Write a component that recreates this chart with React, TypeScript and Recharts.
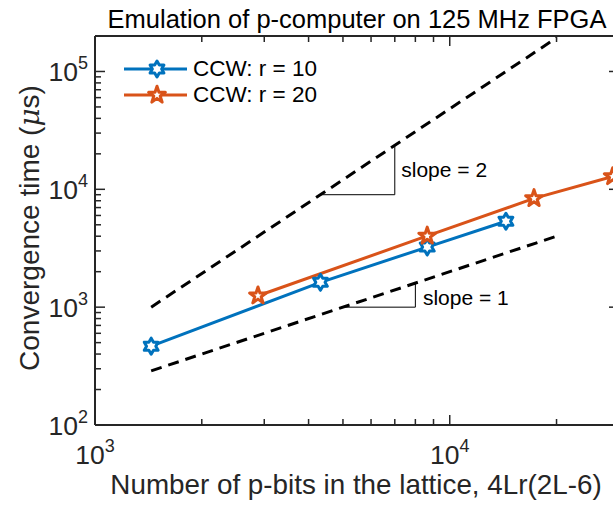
import React from 'react';
import { LineChart, Line, XAxis, YAxis, ReferenceDot, Legend } from 'recharts';

// ---- data ----
const xR10 = [1440, 4320, 8640, 14400];
const yR10 = [467, 1625, 3236, 5360];
const xR20 = [2880, 8640, 17280, 28800];
const yR20 = [1250, 4020, 8375, 12850];
const slope2X = [1440, 20000];
const slope2Y = [1000, 192900];
const slope1X = [1440, 20000];
const slope1Y = [288, 4000];
const tri2X = [4320, 7000, 7000];
const tri2Y = [9000, 9000, 23630];
const tri1X = [5000, 8000, 8000];
const tri1Y = [1000, 1000, 1600];
const slope2Text = { x: 7300, y: 14600, label: 'slope = 2' };
const slope1Text = { x: 8400, y: 1205, label: 'slope = 1' };
const seriesNames = ['CCW: r = 10', 'CCW: r = 20'];
const xMajor = [1000, 10000];
const xMinor = [2000, 3000, 4000, 5000, 6000, 7000, 8000, 9000, 20000, 30000];
const yMajor = [100, 1000, 10000, 100000];
const yMinor = [200, 300, 400, 500, 600, 700, 800, 900, 2000, 3000, 4000, 5000, 6000, 7000, 8000, 9000, 20000, 30000, 40000, 50000, 60000, 70000, 80000, 90000, 200000];
const xDomain = [1000, 30000];
const yDomain = [100, 200000];
const titleText = 'Emulation of p-computer on 125 MHz FPGA';
const xLabelText = 'Number of p-bits in the lattice, 4Lr(2L-6)';

const zip = (xs: number[], ys: number[]) => xs.map((x, i) => ({ x, y: ys[i] }));
const r10Data = zip(xR10, yR10);
const r20Data = zip(xR20, yR20);
const s2Data = zip(slope2X, slope2Y);
const s1Data = zip(slope1X, slope1Y);
const t2Data = zip(tri2X, tri2Y);
const t1Data = zip(tri1X, tri1Y);

const BLUE = '#0072BD';
const ORANGE = '#D95319';
const AX = '#262626';
const FONT = '"Liberation Sans", Arial, Helvetica, sans-serif';

const starPath = (cx: number, cy: number, n: number, R: number, r: number) => {
  const pts: string[] = [];
  for (let k = 0; k < 2 * n; k++) {
    const a = (-90 + (k * 180) / n) * (Math.PI / 180);
    const rad = k % 2 === 0 ? R : r;
    pts.push(`${(cx + rad * Math.cos(a)).toFixed(2)},${(cy + rad * Math.sin(a)).toFixed(2)}`);
  }
  return 'M' + pts.join('L') + 'Z';
};

const Hexagram = (props: any) => {
  const { cx, cy, index } = props;
  if (cx == null || cy == null) return <g key={index} />;
  return <path key={`h${index}`} d={starPath(cx, cy, 6, 8, 8 / Math.sqrt(3))} fill="#fff" stroke={BLUE} strokeWidth={3} strokeLinejoin="round" />;
};
const Pentagram = (props: any) => {
  const { cx, cy, index } = props;
  if (cx == null || cy == null) return <g key={index} />;
  return <path key={`p${index}`} d={starPath(cx, cy, 5, 8.8, 8.8 * 0.382)} fill="#fff" stroke={ORANGE} strokeWidth={3} strokeLinejoin="round" />;
};

const expLabel = (v: number) => String(Math.round(Math.log10(v)));

const XTickBottom = (props: any) => {
  const { x, y, payload } = props;
  const v = payload.value;
  const major = xMajor.includes(v);
  const len = major ? 10 : 6;
  return (
    <g>
      <line x1={x} y1={y} x2={x} y2={y - len} stroke={AX} strokeWidth={1.5} />
      {major && (
        <text x={x} y={y + 39} textAnchor="middle" fill={AX} fontFamily={FONT} fontSize={26.5}>
          <tspan>10</tspan>
          <tspan dy={-12} fontSize={18}>{expLabel(v)}</tspan>
        </text>
      )}
    </g>
  );
};
const XTickTop = (props: any) => {
  const { x, y, payload } = props;
  const major = xMajor.includes(payload.value);
  const len = major ? 10 : 6;
  return <line x1={x} y1={y} x2={x} y2={y + len} stroke={AX} strokeWidth={1.5} />;
};
const YTickLeft = (props: any) => {
  const { x, y, payload } = props;
  const v = payload.value;
  const major = yMajor.includes(v);
  const len = major ? 10 : 6;
  return (
    <g>
      <line x1={x} y1={y} x2={x + len} y2={y} stroke={AX} strokeWidth={1.5} />
      {major && (
        <text x={x - 7} y={y + 10} textAnchor="end" fill={AX} fontFamily={FONT} fontSize={26.5}>
          <tspan>10</tspan>
          <tspan dy={-12} fontSize={18}>{expLabel(v)}</tspan>
        </text>
      )}
    </g>
  );
};
const YTickRight = (props: any) => {
  const { x, y, payload } = props;
  const major = yMajor.includes(payload.value);
  const len = major ? 10 : 6;
  return <line x1={x} y1={y} x2={x - len} y2={y} stroke={AX} strokeWidth={1.5} />;
};

const LegendContent = () => (
  <div style={{ fontFamily: FONT, fontSize: 22.5, color: '#000' }}>
    {seriesNames.map((name, i) => (
      <div key={name} style={{ display: 'flex', alignItems: 'center', height: 26 }}>
        <svg width={63} height={26} style={{ display: 'block' }}>
          <line x1={0} y1={13} x2={63} y2={13} stroke={i === 0 ? BLUE : ORANGE} strokeWidth={3} />
          {i === 0 ? <Hexagram cx={33} cy={13} index={0} /> : <Pentagram cx={33} cy={13} index={1} />}
        </svg>
        <span style={{ marginLeft: 6, lineHeight: '26px', whiteSpace: 'nowrap' }}>{name}</span>
      </div>
    ))}
  </div>
);

const slopeLabel = (text: string) => ({
  value: text,
  position: 'right' as const,
  offset: 0,
  fill: '#000',
  fontSize: 21,
  fontFamily: FONT,
});

export default function App() {
  const allX = [...xMajor, ...xMinor];
  const allY = [...yMajor, ...yMinor];
  return (
    <div style={{ position: 'absolute', left: 0, top: 0, width: 613, height: 508, overflow: 'hidden', background: '#fff' }}>
      <div style={{ position: 'absolute', left: 0, top: 0 }}>
        <LineChart width={640} height={508} margin={{ top: 35, left: 94, right: 20, bottom: 82 }}>
          <XAxis xAxisId="b" type="number" dataKey="x" scale="log" domain={xDomain} allowDataOverflow ticks={allX}
            interval={0} height={1} tickSize={0} tickMargin={0} tickLine={false} tick={XTickBottom}
            axisLine={{ stroke: AX, strokeWidth: 2 }} orientation="bottom" />
          <XAxis xAxisId="t" type="number" dataKey="x" scale="log" domain={xDomain} allowDataOverflow ticks={allX}
            interval={0} height={1} tickSize={0} tickMargin={0} tickLine={false} tick={XTickTop}
            axisLine={{ stroke: AX, strokeWidth: 2 }} orientation="top" />
          <YAxis yAxisId="l" type="number" scale="log" domain={yDomain} allowDataOverflow ticks={allY}
            interval={0} width={1} tickSize={0} tickMargin={0} tickLine={false} tick={YTickLeft}
            axisLine={{ stroke: AX, strokeWidth: 2 }} orientation="left" />
          <YAxis yAxisId="r" type="number" scale="log" domain={yDomain} allowDataOverflow ticks={allY}
            interval={0} width={1} tickSize={0} tickMargin={0} tickLine={false} tick={YTickRight}
            axisLine={{ stroke: AX, strokeWidth: 2 }} orientation="right" />
          <Legend layout="vertical" align="center" verticalAlign="middle" content={<LegendContent />}
            wrapperStyle={{ position: 'absolute', left: 124, top: 56, width: 'auto', height: 'auto' }} />
          <Line xAxisId="b" yAxisId="l" data={s2Data} dataKey="y" stroke="#000" strokeWidth={3} strokeDasharray="11 7" dot={false} isAnimationActive={false} legendType="none" />
          <Line xAxisId="b" yAxisId="l" data={s1Data} dataKey="y" stroke="#000" strokeWidth={3} strokeDasharray="11 7" dot={false} isAnimationActive={false} legendType="none" />
          <Line xAxisId="b" yAxisId="l" data={t2Data} dataKey="y" stroke="#000" strokeWidth={1} dot={false} isAnimationActive={false} legendType="none" />
          <Line xAxisId="b" yAxisId="l" data={t1Data} dataKey="y" stroke="#000" strokeWidth={1} dot={false} isAnimationActive={false} legendType="none" />
          <Line xAxisId="b" yAxisId="l" data={r10Data} dataKey="y" name={seriesNames[0]} stroke={BLUE} strokeWidth={3} dot={<Hexagram />} isAnimationActive={false} />
          <Line xAxisId="b" yAxisId="l" data={r20Data} dataKey="y" name={seriesNames[1]} stroke={ORANGE} strokeWidth={3} dot={<Pentagram />} isAnimationActive={false} />
          <ReferenceDot xAxisId="b" yAxisId="l" x={slope2Text.x} y={slope2Text.y} r={0} label={slopeLabel(slope2Text.label)} />
          <ReferenceDot xAxisId="b" yAxisId="l" x={slope1Text.x} y={slope1Text.y} r={0} label={slopeLabel(slope1Text.label)} />
        </LineChart>
      </div>
      <div style={{ position: 'absolute', left: 357, top: 4, transform: 'translateX(-50%)', whiteSpace: 'nowrap', fontFamily: FONT, fontSize: 25.5, color: '#000', lineHeight: '30px' }}>
        {titleText}
      </div>
      <div style={{ position: 'absolute', left: 356, top: 471, transform: 'translateX(-50%)', whiteSpace: 'nowrap', fontFamily: FONT, fontSize: 27.8, color: AX, lineHeight: '28px' }}>
        {xLabelText}
      </div>
      <div style={{ position: 'absolute', left: 30, top: 228, transform: 'translate(-50%, -50%) rotate(-90deg)', whiteSpace: 'nowrap', fontFamily: FONT, fontSize: 28, color: AX, lineHeight: '34px' }}>
        Convergence time (<i style={{ fontFamily: '"DejaVu Serif", "Liberation Serif", serif' }}>μ</i>s)
      </div>
    </div>
  );
}
